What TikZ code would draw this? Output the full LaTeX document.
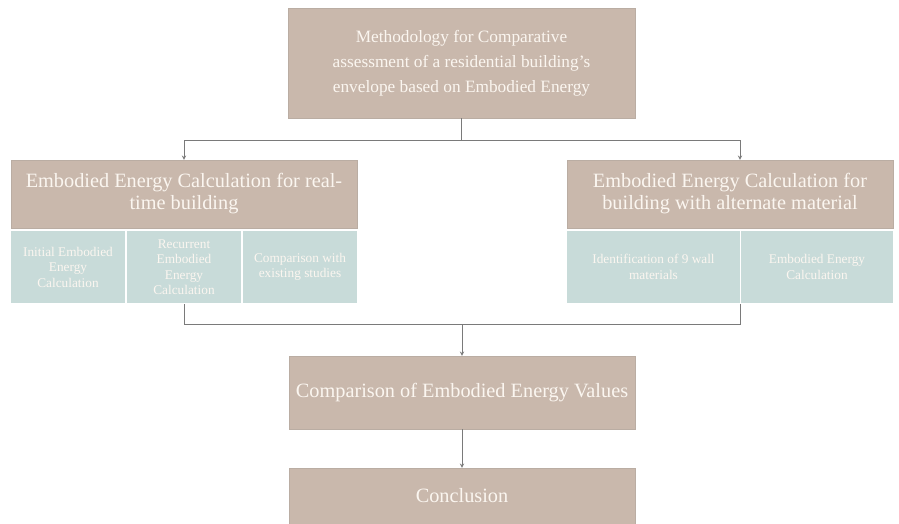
\documentclass[tikz,border=0pt]{standalone}
\usepackage{fontspec}
\setmainfont{Liberation Serif}
\usepackage{tikz}
\definecolor{boxtan}{HTML}{C9B8AC}
\definecolor{boxteal}{HTML}{C8DBD9}
\definecolor{boxtext}{HTML}{FBF6F0}
\definecolor{linegray}{HTML}{7A7A7A}
\tikzset{
  mainbox/.style={draw=boxtan!80!gray, fill=boxtan, text=boxtext, align=center, inner sep=2pt},
  subbox/.style={draw=white, line width=1.5pt, fill=boxteal, text=boxtext, align=center, inner sep=2pt,
    font=\fontsize{13.3}{15.5}\selectfont},
  link/.style={draw=linegray, line width=0.9pt},
  arr/.style={link, -stealth}
}

\begin{document}
\begin{tikzpicture}[x=1pt, y=-1pt]
    \useasboundingbox (0,0) rectangle (899,524);
    % top box
    \node[mainbox, minimum width=347pt, minimum height=110pt, font=\fontsize{17.3}{25}\selectfont] (method) at (461.5,63)
        {Methodology for Comparative\\assessment of a residential building's\\envelope based on Embodied Energy};
    % two branches
    \node[mainbox, minimum width=346pt, minimum height=68pt, font=\fontsize{20.3}{22}\selectfont] (realtime) at (184,194)
        {Embodied Energy Calculation for real-\\time building};
    \node[mainbox, minimum width=326pt, minimum height=68pt, font=\fontsize{20.3}{22}\selectfont] (alternate) at (730,194)
        {Embodied Energy Calculation for\\building with alternate material};
    \node[subbox, minimum width=115pt, minimum height=73pt] (initial) at (68,267) {Initial Embodied\\Energy\\Calculation};
    \node[subbox, minimum width=115pt, minimum height=73pt] (recurrent) at (184,267) {Recurrent\\Embodied\\Energy\\Calculation};
    \node[subbox, minimum width=115pt, minimum height=73pt] (existing) at (300,267) {Comparison with\\existing studies};
    \node[subbox, minimum width=174pt, minimum height=73pt] (identify) at (653.5,267) {Identification of 9 wall\\materials};
    \node[subbox, minimum width=153pt, minimum height=73pt] (calc) at (817,267) {Embodied Energy\\Calculation};
    % results
    \node[mainbox, minimum width=346pt, minimum height=73pt, font=\fontsize{20.3}{22}\selectfont] (compare) at (462,392.5)
        {Comparison of Embodied Energy Values};
    \node[mainbox, minimum width=346pt, minimum height=56pt, font=\fontsize{20.3}{22}\selectfont] (conclusion) at (462,496)
        {Conclusion};

    \coordinate (split) at (461.5,140);
    \coordinate (jl) at (184,140);
    \coordinate (jr) at (740,140);
    \draw[link] (method.south) -- (split);
    \draw[link] (jl) -- (jr);
    \draw[arr] (jl) -- (realtime.north);
    \draw[arr] (jr) -- (jr |- alternate.north);

    \coordinate (ml) at (184,324);
    \coordinate (mr) at (740,324);
    \coordinate (merge) at (462,324);
    \draw[link] (recurrent.south) -- (ml) -- (mr) -- (mr |- identify.south);
    \draw[arr] (merge) -- (compare.north);
    \draw[arr] (compare.south) -- (conclusion.north);
\end{tikzpicture}
\end{document}
